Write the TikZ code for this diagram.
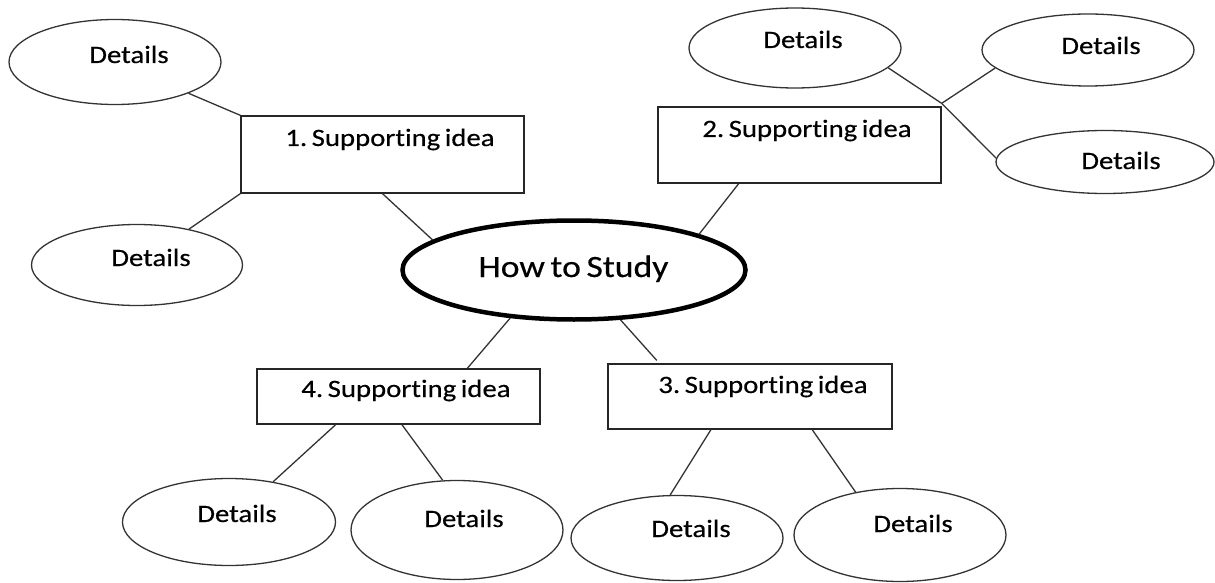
\documentclass[tikz,border=0pt]{standalone}
\usepackage{fontspec}
\newfontfamily\lblfont{Carlito}[FakeStretch=1.15, Ligatures=NoCommon, WordSpace=0.7, FakeBold=0.4]
\frenchspacing
\usetikzlibrary{shapes.geometric,calc}
\tikzset{
  conn/.style={draw=black!80, line width=1.3pt},
  detail/.style={ellipse, draw=black!80, line width=1.3pt, inner sep=0pt},
  idea/.style={rectangle, draw=black!85, line width=1.3pt, inner sep=0pt},
  mainell/.style={ellipse, draw=black, line width=4.5pt, inner sep=0pt},
  txt/.style={anchor=base, inner sep=0pt, text=black, font=\lblfont\frenchspacing\fontsize{25}{30}\selectfont},
  bigtxt/.style={anchor=base, inner sep=0pt, text=black, font=\lblfont\frenchspacing\fontsize{31}{36}\selectfont}
}
\begin{document}
\begin{tikzpicture}[x=1pt,y=-1pt]
\useasboundingbox (0,0) rectangle (1215,583);
% centre
\node[mainell, minimum width=343pt, minimum height=99pt] (c) at (574,270) {};
\node[bigtxt] (ct) at (573.5,277) {How to Study};
% boxes
\node[idea, minimum width=283pt, minimum height=77pt] (b1) at (382.5,154.5) {};
\node[txt] (b1t) at (390,146) {1. Supporting idea};
\node[idea, minimum width=283pt, minimum height=76pt] (b2) at (799.5,145) {};
\node[txt] (b2t) at (807,137) {2. Supporting idea};
\node[idea, minimum width=284pt, minimum height=65pt] (b3) at (750,396.5) {};
\node[txt] (b3t) at (763,393) {3. Supporting idea};
\node[idea, minimum width=283pt, minimum height=55pt] (b4) at (398.5,396.5) {};
\node[txt] (b4t) at (406,397) {4. Supporting idea};
% detail ellipses
\node[detail, minimum width=212pt, minimum height=85pt] (e1) at (115,62) {};
\node[txt] (e1t) at (129,63) {Details};
\node[detail, minimum width=211pt, minimum height=81pt] (e2) at (137,265) {};
\node[txt] (e2t) at (151,266) {Details};
\node[detail, minimum width=212pt, minimum height=80pt] (e3) at (795,48) {};
\node[txt] (e3t) at (803,48) {Details};
\node[detail, minimum width=212pt, minimum height=72pt] (e4) at (1088,50) {};
\node[txt] (e4t) at (1101,54) {Details};
\node[detail, minimum width=218pt, minimum height=63pt] (e5) at (1105,162) {};
\node[txt] (e5t) at (1121,169) {Details};
\node[detail, minimum width=213pt, minimum height=87pt] (e6) at (229,522) {};
\node[txt] (e6t) at (237,522) {Details};
\node[detail, minimum width=212pt, minimum height=99pt] (e7) at (457,530) {};
\node[txt] (e7t) at (464,527) {Details};
\node[detail, minimum width=212pt, minimum height=85pt] (e8) at (677,538) {};
\node[txt] (e8t) at (691,537) {Details};
\node[detail, minimum width=212pt, minimum height=93pt] (e9) at (900,535) {};
\node[txt] (e9t) at (913,532) {Details};
% junction near box 2
\coordinate (j) at ([yshift=3pt]b2.north east);
% connectors
\draw[conn] (e1) -- (b1.north west);
\draw[conn] (b1.south west) -- (e2);
\draw[conn] (b1.south) -- (c.168);
\draw[conn] ($(b2.south west)!0.286!(b2.south east)$) -- (c.16);
\draw[conn] (e3.348) -- (j);
\draw[conn] (e4.191) -- (j);
\draw[conn] (j) -- (e5.178);
\draw[conn] (c.217) -- ($(b4.north west)!0.742!(b4.north east)$);
\draw[conn] (c.313) -- ([yshift=3pt]$(b3.north west)!0.173!(b3.north east)$);
\draw[conn] ($(b4.south west)!0.279!(b4.south east)$) -- (e6);
\draw[conn] ($(b4.south west)!0.512!(b4.south east)$) -- (e7.106);
\draw[conn] ($(b3.south west)!0.363!(b3.south east)$) -- (e8.99);
\draw[conn] ($(b3.south west)!0.718!(b3.south east)$) -- (e9.136);
\end{tikzpicture}
\end{document}
